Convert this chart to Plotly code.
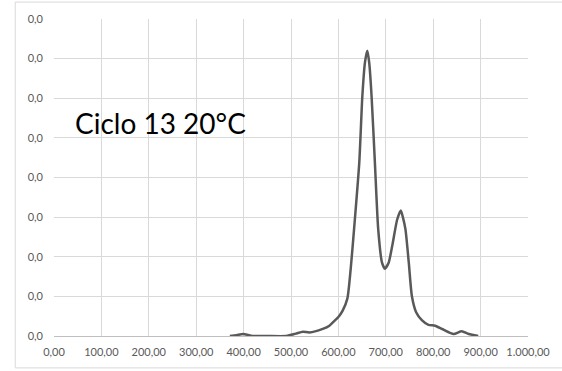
import plotly.graph_objects as go

# Data (y in units of 0.001)
wavelength = [371, 385, 399, 419, 450, 490, 510, 525, 539, 567, 581, 588, 600, 609, 619, 626, 633, 644, 650.5, 656, 661,
              665, 670, 677, 684, 692, 698, 706, 713.5, 724, 731.7, 736, 741.5, 748.5, 755, 764, 776, 790, 804, 820, 843, 860, 875, 895]
intensity = [0.0, 0.02, 0.05, 0.0, 0.0, 0.0, 0.06, 0.11, 0.09, 0.18, 0.26, 0.34, 0.48, 0.64, 0.95, 1.7, 2.69, 4.37, 6.05, 6.9, 7.2,
             6.9, 6.05, 4.37, 2.69, 1.85, 1.7, 1.85, 2.27, 2.94, 3.17, 3.0, 2.69, 1.85, 1.01, 0.6, 0.4, 0.28, 0.26, 0.17, 0.05, 0.12, 0.05, 0.0]
intensity = [v / 1000 for v in intensity]

x_ticks = [0, 100, 200, 300, 400, 500, 600, 700, 800, 900, 1000]
y_ticks = [i / 1000 for i in range(9)]
label = "Ciclo 13 20°C"

fig = go.Figure()
fig.add_trace(go.Scatter(x=wavelength, y=intensity, mode="lines",
                         line=dict(color="#595959", width=2.5, shape="spline", smoothing=0.6),
                         showlegend=False, hoverinfo="skip"))

W, H = 562, 371
ml, mr, mt, mb = 54, 31, 18, 35
pw, ph = W - ml - mr, H - mt - mb

def px(xp):
    return (xp - ml) / pw

def py(yp):
    return (H - mb - yp) / ph

fig.add_shape(type="rect", xref="paper", yref="paper",
              x0=px(15), x1=px(575), y0=py(368), y1=py(1),
              line=dict(color="#d9d9d9", width=1), layer="below")

fig.add_annotation(x=px(161), y=py(122), xref="paper", yref="paper", text=label,
                   showarrow=False, font=dict(family="Lato, Carlito, Calibri, sans-serif", size=28, color="#000000"),
                   xanchor="center", yanchor="middle")

tick_font = dict(family="Lato, Carlito, Calibri, sans-serif", size=11, color="#595959")

fig.update_layout(
    width=W, height=H, margin=dict(l=ml, r=mr, t=mt, b=mb),
    paper_bgcolor="white", plot_bgcolor="white",
    separators=",.",
    font=dict(family="Lato, Carlito, Calibri, sans-serif", size=11, color="#595959"),
    xaxis=dict(range=[0, 1000], tickvals=x_ticks, tickformat=",.2f", showgrid=True, gridcolor="#d9d9d9",
               gridwidth=1, showline=True, linecolor="#bfbfbf", linewidth=1, zeroline=False, ticks="",
               ticklen=0, ticklabelstandoff=6, tickfont=tick_font, fixedrange=True),
    yaxis=dict(range=[0, 0.008], tickvals=y_ticks, tickformat=".1f", showgrid=True, gridcolor="#d9d9d9",
               gridwidth=1, showline=False, zeroline=False, ticks="", ticklabelstandoff=10,
               tickfont=tick_font, fixedrange=True),
)

fig.write_html("out.html")
